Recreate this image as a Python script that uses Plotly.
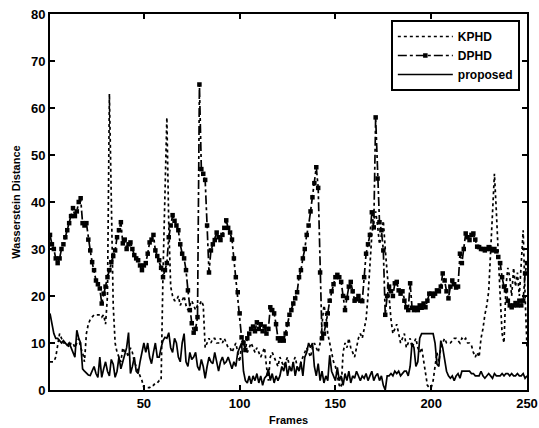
import plotly.graph_objects as go

frames = list(range(1, 251))

kphd = [
    6, 6, 6, 7, 10, 12, 11, 10, 10, 10,
    9, 10, 10, 9, 10, 11, 9, 8, 6, 12,
    14, 15, 15.5, 16, 16, 16, 16, 15.5, 16, 14,
    20, 63, 40, 18, 10, 8, 7, 6, 9, 8,
    8, 7, 9, 8, 6, 5, 4, 3, 2, 0.5,
    0.5, 0.5, 0.5, 1, 1, 1.5, 1.5, 2, 2, 25,
    45, 58, 35, 22, 20, 19, 19, 20, 18, 19,
    20, 18, 17, 18, 19, 18, 17, 18, 18, 19,
    18, 9, 10, 11, 10, 11, 11, 10, 10, 11,
    10, 11, 10, 9, 9, 8, 9, 10, 8, 6,
    10, 11, 9, 8, 9, 10, 9, 8, 9, 8,
    7, 8, 9, 5, 2, 7, 8, 7, 6, 5,
    7, 6, 5, 6, 7, 5, 4, 6, 7, 5,
    4, 6, 7, 8, 9, 8, 7, 9, 10, 9,
    8, 10, 14, 18, 16, 12, 10, 8, 6, 5,
    3, 1, 0.5, 8, 10, 9, 11, 9, 8, 7,
    9, 11, 12, 11, 13, 15, 20, 27, 33, 36,
    38, 35, 31, 33, 36, 30, 25, 20, 15, 12,
    13, 14, 12, 10, 11, 12, 9, 10, 11, 9,
    10, 11, 9, 8, 9, 6, 3, 1, 0.5, 0.5,
    2, 5, 8, 6, 9, 10, 11, 10, 10, 10,
    10.5, 11, 11, 10.5, 10, 11, 10.5, 11, 10, 10,
    9.5, 8, 7, 8, 7, 11, 13, 16, 18, 21,
    30, 40, 46, 38, 28, 20, 12, 10, 22, 26,
    24, 20, 26, 22, 25, 20, 27, 34, 20, 9,
]

dphd = [
    33, 31, 30, 28, 27, 28, 30, 31, 32.5, 34,
    35.5, 37, 38.7, 37, 38, 40, 40.8, 35.5, 35, 35.5,
    32, 29.7, 27.2, 25.5, 23.3, 22.5, 21.6, 18.4, 20.5, 22,
    24, 25.5, 27.2, 28.5, 29.7, 32.5, 34, 35.7, 31.2, 32,
    30, 31, 31.4, 30, 28.7, 28, 27.6, 26.5, 25.5, 26.5,
    27, 29, 31.4, 32, 33, 29.7, 28.5, 27.6, 26, 24,
    25.5, 27, 32.5, 35, 37.2, 36, 35, 34, 31, 29,
    28, 25.5, 21.2, 17, 14.2, 12.2, 13, 15.5, 65, 47,
    46, 44.7, 35, 25, 29.7, 31, 31.9, 33.5, 32.5, 31.9,
    33, 34.5, 36.1, 34.5, 33.5, 32, 28, 24, 20.8, 16.3,
    11.2, 10, 8.5, 11, 12, 13, 13.5, 12.5, 14.4, 13,
    14, 12.5, 13.5, 12, 13, 17.6, 17, 16.3, 14, 11,
    10.5, 11, 10.5, 12, 14, 16, 17, 18.4, 19.5, 20.8,
    24, 25.5, 28, 30, 33, 35, 38, 41, 44, 47.4,
    43, 25, 11, 12, 14, 16.3, 19, 21, 22.5, 24,
    24.5, 24, 23, 20, 17, 19.6, 22, 23, 21, 19,
    19.3, 20, 19, 18.9, 24, 29, 31, 33, 37.8, 34.6,
    58, 45, 35.7, 34, 29.7, 16, 20, 22, 21, 20,
    22.7, 23, 21.2, 20.5, 21, 19, 17.6, 17, 22.7, 17.5,
    17, 17.5, 17, 18, 17.5, 18.4, 17.6, 19, 20.5, 20.5,
    20, 20.5, 21.2, 21, 22, 24.8, 23.3, 21, 19.5, 22,
    23.3, 22.5, 21.8, 22, 29, 27, 30, 33.3, 32.5, 31.9,
    33, 33.3, 32, 30.5, 30.4, 30, 30, 29.7, 30, 30.4,
    30, 29.7, 30, 29.5, 28.3, 27, 24, 22, 21.2, 19,
    18, 17.6, 18, 18.5, 18, 19, 18, 19, 24.8, 27,
]

proposed = [
    16.3, 14, 12, 11, 11, 10.5, 10, 10.5, 10, 9.5,
    10, 9, 8, 7, 12.7, 11, 10, 4.5, 4, 3.5,
    3.2, 3.1, 4, 5, 3.5, 2.7, 7, 2.7, 4.5, 6,
    4, 3, 6.5, 5.5, 2.7, 4, 7, 4.5, 6, 7.8,
    9, 12.2, 3.5, 5, 7, 4, 3.5, 6, 8, 10,
    8, 10, 7, 5.6, 8, 10, 7, 7, 9, 10.5,
    11.2, 11, 12.2, 9, 8, 11, 10, 7, 6, 10,
    12, 6, 5, 8, 6.5, 7, 8, 5, 4.2, 6.5,
    5, 2.5, 5, 7, 6, 5.6, 8, 6, 4, 6,
    7, 5.6, 6, 7, 5.5, 4.5, 6, 5, 8, 9,
    10, 4, 2, 1.5, 3, 1.3, 3, 2, 3.5, 1.5,
    3, 1, 2.5, 3, 4.5, 2, 3.5, 1.5, 3, 2,
    3, 5, 4, 6, 3, 5, 4, 6, 3, 5,
    4, 6, 3, 7, 8, 10, 9, 10, 5, 3,
    5.6, 2, 4, 1.5, 3, 2, 7.4, 4, 3, 2,
    4.8, 2, 3, 1, 3.5, 2, 4, 1.5, 3, 2.5,
    4, 3, 2, 3, 2.5, 3.5, 2, 3, 4, 2,
    3, 3.5, 2, 3, 1, 0, 3, 3, 3.5, 3,
    4, 3.5, 4, 3, 3.5, 4, 4, 3, 5, 10,
    9, 5, 6, 11, 12, 12, 12, 12, 12, 12,
    12, 10, 5.5, 5, 10.5, 9, 6, 4, 3, 2.5,
    3, 2, 3, 3.5, 2.5, 4, 4, 4, 4, 4,
    3.5, 3.5, 3, 3, 3, 4, 3, 2.5, 3, 3.5,
    3, 2.5, 3.5, 3, 3, 3, 3.5, 3, 3.5, 3.5,
    3, 3.5, 3, 3, 3.5, 3, 3, 3.5, 2.5, 3,
]

x_ticks = [50, 100, 150, 200, 250]
y_ticks = [0, 10, 20, 30, 40, 50, 60, 70, 80]

FONT = "Liberation Sans"

fig = go.Figure()
fig.add_trace(go.Scatter(
    x=frames, y=kphd, name="KPHD", mode="lines",
    line=dict(color="black", width=1.7, dash="dot"),
))
fig.add_trace(go.Scatter(
    x=frames, y=dphd, name="DPHD", mode="lines+markers",
    line=dict(color="black", width=1.7, dash="dashdot"),
    marker=dict(symbol="square", size=4.5, color="black"),
))
fig.add_trace(go.Scatter(
    x=frames, y=proposed, name="proposed", mode="lines",
    line=dict(color="black", width=1.7),
))

axis_common = dict(
    showgrid=False, zeroline=False, showline=True, linecolor="black",
    linewidth=2, mirror="ticks", ticks="inside", ticklen=5, tickwidth=1.5,
    tickcolor="black", automargin=False, ticklabeloverflow="allow",
    tickfont=dict(family=FONT, size=13, color="black", weight="bold"),
)

fig.update_layout(
    width=539, height=428,
    margin=dict(l=50, r=12, t=14, b=38),
    paper_bgcolor="white", plot_bgcolor="white",
    showlegend=True,
    legend=dict(
        x=0.985, y=0.984, xanchor="right", yanchor="top",
        bgcolor="white", bordercolor="black", borderwidth=2,
        font=dict(family=FONT, size=12, color="black", weight="bold"),
        tracegroupgap=0, itemwidth=55,
    ),
    xaxis=dict(range=[1, 250], tickvals=x_ticks, **axis_common),
    yaxis=dict(
        range=[0, 80], tickvals=y_ticks,
        title=dict(text="Wasserstein Distance", standoff=8,
                   font=dict(family=FONT, size=11, color="black", weight="bold")),
        **axis_common,
    ),
    annotations=[dict(
        text="Frames", xref="paper", yref="paper", x=0.5, y=0,
        xanchor="center", yanchor="top", yshift=-22, showarrow=False,
        font=dict(family=FONT, size=11, color="black", weight="bold"),
    )],
)

# remove the default 8px page margin so the figure fills the window exactly
fig.write_html(
    "out.html",
    config={"displayModeBar": False},
    post_script="document.body.style.margin='0px';",
)
